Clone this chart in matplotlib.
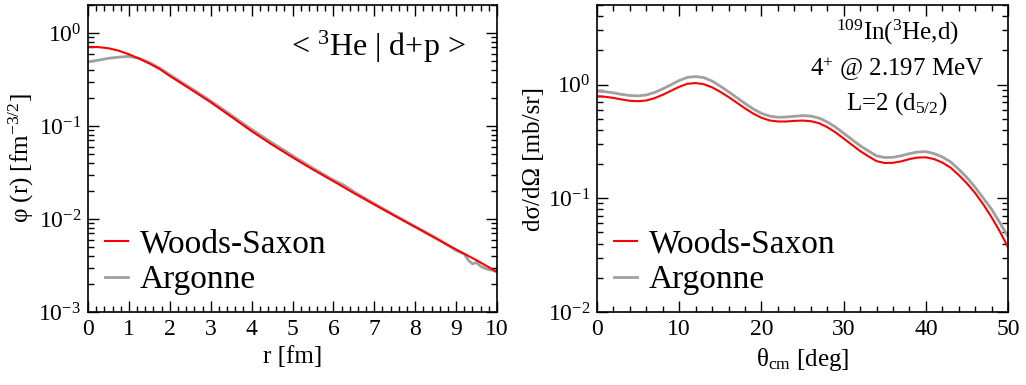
import matplotlib
matplotlib.use('Agg')
import matplotlib.pyplot as plt
from matplotlib.ticker import MultipleLocator, LogLocator

plt.rcParams['font.family'] = ['Liberation Serif', 'DejaVu Serif']
plt.rcParams['mathtext.default'] = 'regular'
plt.rcParams['axes.unicode_minus'] = False

# overlap function <3He | d+p>
r_ws = [0, 0.25, 0.5, 0.75, 1.0, 1.25, 1.5, 1.75, 2.0, 2.5, 3.0, 3.5, 4.0, 4.5,
        5.0, 5.5, 6.0, 6.5, 7.0, 7.5, 8.0, 8.5, 9.0, 9.5, 10.0]
phi_ws = [0.71, 0.705, 0.685, 0.645, 0.59, 0.53, 0.47, 0.41, 0.345, 0.25, 0.18,
          0.126, 0.088, 0.063, 0.046, 0.034, 0.0255, 0.019, 0.0143, 0.0108,
          0.0082, 0.0062, 0.0047, 0.0036, 0.0027]

r_av = [0, 0.25, 0.5, 0.75, 1.0, 1.25, 1.5, 1.75, 2.0, 2.5, 3.0, 3.5, 4.0, 4.5,
        5.0, 5.5, 6.0, 6.25, 6.5, 7.0, 7.5, 8.0, 8.5, 9.0, 9.2, 9.3, 9.4, 9.5,
        9.6, 9.75, 9.9, 10.0]
phi_av = [0.49, 0.51, 0.535, 0.55, 0.56, 0.535, 0.48, 0.42, 0.355, 0.258, 0.186,
          0.131, 0.092, 0.066, 0.048, 0.0352, 0.0262, 0.0232, 0.0196, 0.0146,
          0.011, 0.0083, 0.0063, 0.0046, 0.0042, 0.0036, 0.0033, 0.0034, 0.0031,
          0.0029, 0.0028, 0.0027]

# angular distribution 109In(3He,d)
theta = list(range(0, 51))
xs_ws = [0.789, 0.780, 0.762, 0.738, 0.719, 0.713, 0.724, 0.759, 0.813, 0.881,
         0.955, 1.015, 1.030, 1.005, 0.944, 0.861, 0.776, 0.692, 0.617, 0.555,
         0.510, 0.483, 0.473, 0.473, 0.479, 0.482, 0.476, 0.457, 0.422, 0.380,
         0.335, 0.295, 0.260, 0.234, 0.212, 0.204, 0.205, 0.211, 0.221, 0.228,
         0.229, 0.221, 0.206, 0.186, 0.160, 0.135, 0.111, 0.088, 0.068, 0.051,
         0.037]
xs_av = [0.875, 0.865, 0.845, 0.818, 0.800, 0.794, 0.809, 0.851, 0.916, 0.995,
         1.084, 1.155, 1.175, 1.148, 1.072, 0.966, 0.865, 0.767, 0.682, 0.610,
         0.558, 0.527, 0.515, 0.518, 0.525, 0.533, 0.528, 0.507, 0.469, 0.423,
         0.373, 0.329, 0.290, 0.261, 0.236, 0.228, 0.229, 0.236, 0.247, 0.255,
         0.257, 0.247, 0.231, 0.209, 0.180, 0.152, 0.125, 0.100, 0.080, 0.061,
         0.046]

red = '#ff0000'
grey = '#a0a0a0'

fig = plt.figure(figsize=(10.26, 3.85), dpi=100)
ax1 = fig.add_axes([0.0858, 0.1896, 0.3986, 0.7974])
ax2 = fig.add_axes([0.5819, 0.1896, 0.4006, 0.7974])

leg_kw = dict(loc='lower left', fontsize=24, frameon=False, handlelength=0.7,
              handletextpad=0.35, labelspacing=0.15, borderaxespad=0.1,
              bbox_to_anchor=(0.0, 0.0))

# left panel
l2, = ax1.plot(r_av, phi_av, color=grey, lw=2.0)
l1, = ax1.plot(r_ws, phi_ws, color=red, lw=1.5)
ax1.set_yscale('log')
ax1.set_xlim(0, 10)
ax1.set_ylim(1e-3, 2)
ax1.xaxis.set_major_locator(MultipleLocator(1))
ax1.xaxis.set_minor_locator(MultipleLocator(0.2))
ax1.set_xlabel('r [fm]', fontsize=18, labelpad=4)
ax1.set_ylabel('φ (r) [fm$^{-3/2}$]', fontsize=18, labelpad=2)
ax1.text(0.922, 0.865, '< $^{3}$He | d+p >', transform=ax1.transAxes,
         ha='right', va='center', fontsize=23)
ax1.legend([l1, l2], ['Woods-Saxon', 'Argonne'], **leg_kw)

# right panel
m2, = ax2.plot(theta, xs_av, color=grey, lw=2.0)
m1, = ax2.plot(theta, xs_ws, color=red, lw=1.5)
ax2.set_yscale('log')
ax2.set_xlim(0, 50)
ax2.set_ylim(1e-2, 5)
ax2.xaxis.set_major_locator(MultipleLocator(10))
ax2.xaxis.set_minor_locator(MultipleLocator(2))
ax2.set_xlabel('θ$_{cm}$ [deg]', fontsize=18, labelpad=4)
ax2.set_ylabel('dσ/dΩ [mb/sr]', fontsize=18, labelpad=2)
ax2.text(0.73, 0.91, '$^{109}$In($^{3}$He,d)', transform=ax2.transAxes,
         ha='center', va='center', fontsize=18)
ax2.text(0.73, 0.79, '4$^{+}$ @ 2.197 MeV', transform=ax2.transAxes,
         ha='center', va='center', fontsize=18)
ax2.text(0.73, 0.68, 'L=2 (d$_{5/2}$)', transform=ax2.transAxes,
         ha='center', va='center', fontsize=18)
ax2.legend([m1, m2], ['Woods-Saxon', 'Argonne'], **leg_kw)

for ax in (ax1, ax2):
    ax.yaxis.set_major_locator(LogLocator(base=10, numticks=10))
    ax.yaxis.set_minor_locator(LogLocator(base=10, subs=range(2, 10), numticks=10))
    ax.tick_params(which='both', direction='in', top=True, right=True,
                   labelsize=17, width=1, pad=5)
    ax.tick_params(which='major', length=8)
    ax.tick_params(which='minor', length=4)
    for s in ax.spines.values():
        s.set_linewidth(1.2)

fig.savefig('out.png', dpi=100)
